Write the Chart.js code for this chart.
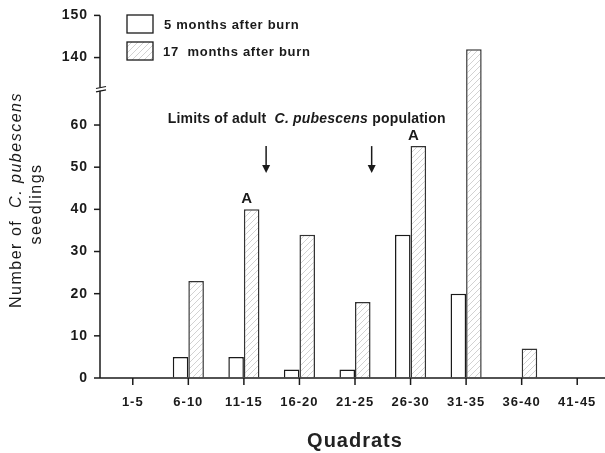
<!DOCTYPE html>
<html>
<head>
<meta charset="utf-8">
<script src="https://cdn.jsdelivr.net/npm/chart.js@4"></script>
<style>
html, body { margin: 0; padding: 0; background: #fff; }
</style>
</head>
<body>
<canvas id="myChart" width="605" height="453"></canvas>
<script>
const quadrats = ['1-5', '6-10', '11-15', '16-20', '21-25', '26-30', '31-35', '36-40', '41-45'];
const after5 = [0, 5, 5, 2, 2, 34, 20, 0, 0];
const after17 = [0, 23, 40, 34, 18, 55, 142, 7, 0];
const seriesNames = ['5 months after burn', '17  months after burn'];
const yTicks = [0, 10, 20, 30, 40, 50, 60, 140, 150];
const markedA = [2, 5];          // 17-month bars marked "A"
const limitArrows = [2.4, 4.3];  // category positions of the population limits

// broken axis: everything above the break is pulled down by `shift`
const breakAt = 68, shift = 64;
const toAxis = v => (v > breakAt ? v - shift : v);
const fromAxis = v => (v > breakAt ? v + shift : v);

const FONT = "'Liberation Sans', Arial, sans-serif";
const INK = '#1a1a1a';

function hatch() {
	const c = document.createElement('canvas');
	c.width = 6; c.height = 6;
	const g = c.getContext('2d');
	g.fillStyle = '#fff';
	g.fillRect(0, 0, 6, 6);
	g.strokeStyle = '#d2d2d2';
	g.lineWidth = 1;
	g.beginPath();
	g.moveTo(0, 6); g.lineTo(6, 0);
	g.moveTo(-1, 1); g.lineTo(1, -1);
	g.moveTo(5, 7); g.lineTo(7, 5);
	g.stroke();
	return g.createPattern(c, 'repeat');
}

const ctx = document.getElementById('myChart').getContext('2d');
const hatchFill = hatch();

function line(c, x1, y1, x2, y2) {
	c.beginPath(); c.moveTo(x1, y1); c.lineTo(x2, y2); c.stroke();
}

// parts: [text, italic]; returns total width when dry
function mixedText(c, parts, x, y, size, weight, dry) {
	let cx = x;
	parts.forEach(([t, it]) => {
		c.font = (it ? 'italic ' : '') + weight + ' ' + size + 'px ' + FONT;
		if (!dry) c.fillText(t, cx, y);
		cx += c.measureText(t).width;
	});
	return cx - x;
}

const extras = {
	id: 'extras',
	beforeDraw(chart) {
		chart.ctx.letterSpacing = '1px';
	},
	afterDatasetsDraw(chart) {
		const c = chart.ctx;
		const { chartArea: area, scales: { x, y } } = chart;
		const ax = area.left - 5;
		const y0 = y.getPixelForValue(0);
		c.save();
		c.strokeStyle = INK;
		c.fillStyle = INK;
		c.lineWidth = 1.5;

		// axes
		line(c, ax, y0, area.right, y0);
		const bLow = y.getPixelForValue(68.1), bHigh = y.getPixelForValue(68.9);
		line(c, ax, y0, ax, bLow);
		line(c, ax, bHigh, ax, y.getPixelForValue(toAxis(150)));
		c.lineWidth = 1.2;
		line(c, ax - 4, bLow + 1, ax + 6, bLow - 1);
		line(c, ax - 4, bHigh + 1, ax + 6, bHigh - 1);
		c.lineWidth = 1.5;
		yTicks.forEach(v => {
			const py = y.getPixelForValue(toAxis(v));
			line(c, ax - 6, py, ax, py);
		});
		quadrats.forEach((q, i) => {
			const px = x.getPixelForValue(i);
			line(c, px, y0, px, y0 + 7);
		});

		// "A" marks
		const meta17 = chart.getDatasetMeta(1);
		c.letterSpacing = '0px';
		c.font = 'bold 15px ' + FONT;
		c.textAlign = 'center';
		c.textBaseline = 'middle';
		markedA.forEach(i => {
			const bar = meta17.data[i];
			c.fillText('A', bar.x - 5, bar.y - 10);
		});

		// population limits
		const step = x.getPixelForValue(1) - x.getPixelForValue(0);
		limitArrows.forEach(p => {
			const px = x.getPixelForValue(0) + p * step;
			const top = y.getPixelForValue(55), bot = y.getPixelForValue(48.6);
			c.lineWidth = 1.5;
			line(c, px, top, px, bot - 6);
			c.beginPath();
			c.moveTo(px - 4, bot - 8);
			c.lineTo(px + 4, bot - 8);
			c.lineTo(px, bot);
			c.closePath();
			c.fill();
		});
		c.textAlign = 'left';
		c.letterSpacing = '0.2px';
		mixedText(c, [['Limits of adult  ', false], ['C. pubescens', true], [' population', false]],
			x.getPixelForValue(0) + 0.63 * step, y.getPixelForValue(61.4), 14, 'bold');

		// legend
		const fills = ['#fff', hatchFill];
		c.letterSpacing = '0.7px';
		seriesNames.forEach((name, i) => {
			const by = 15 + i * 27;
			c.fillStyle = fills[i];
			c.fillRect(127, by, 26, 18);
			c.strokeStyle = INK;
			c.lineWidth = 1.3;
			c.strokeRect(127, by, 26, 18);
			c.fillStyle = INK;
			c.font = 'bold 13px ' + FONT;
			c.textBaseline = 'middle';
			c.fillText(name, 164 - (i ? 1 : 0), by + 10);
		});

		// y title
		c.save();
		c.translate(17, 200);
		c.rotate(-Math.PI / 2);
		c.letterSpacing = '1.5px';
		c.textBaseline = 'middle';
		const parts = [['Number of  ', false], ['C. pubescens', true]];
		const w = mixedText(c, parts, 0, 0, 16, 'normal', true);
		mixedText(c, parts, -w / 2, 0, 16, 'normal');
		c.font = '16px ' + FONT;
		c.textAlign = 'center';
		c.fillText('seedlings', -4, 20);
		c.restore();

		c.restore();
	}
};

new Chart(ctx, {
	type: 'bar',
	data: {
		labels: quadrats,
		datasets: [{
			label: seriesNames[0],
			data: after5.map(toAxis),
			backgroundColor: '#fff',
			borderColor: INK,
			borderWidth: 1.5,
			borderSkipped: 'bottom',
			categoryPercentage: 0.56,
			barPercentage: 1.0
		}, {
			label: seriesNames[1],
			data: after17.map(toAxis),
			backgroundColor: hatchFill,
			borderColor: '#333',
			borderWidth: 1.5,
			borderSkipped: 'bottom',
			categoryPercentage: 0.56,
			barPercentage: 1.0
		}]
	},
	options: {
		responsive: false,
		animation: false,
		layout: { padding: { top: 15, right: 0, left: 0, bottom: 0 } },
		plugins: {
			legend: { display: false },
			tooltip: { enabled: false }
		},
		scales: {
			x: {
				grid: { display: true, drawOnChartArea: false, color: 'rgba(0,0,0,0)', tickLength: 8, offset: false },
				border: { display: false },
				ticks: { color: INK, padding: 9, font: { family: FONT, size: 13, weight: 'bold' }, maxRotation: 0, autoSkip: false },
				title: { display: true, text: 'Quadrats', color: '#222', padding: { top: 0, bottom: 0 }, font: { family: FONT, size: 20, weight: 'bold' } },
				afterFit(s) { s.height = 75; }
			},
			y: {
				min: 0,
				max: toAxis(150),
				grid: { display: true, drawOnChartArea: false, color: 'rgba(0,0,0,0)', tickLength: 10 },
				border: { display: false },
				afterBuildTicks(s) { s.ticks = yTicks.map(v => ({ value: toAxis(v) })); },
				ticks: {
					color: INK, padding: 7, font: { family: FONT, size: 14, weight: 'bold' },
					callback: v => String(fromAxis(v))
				},
				afterFit(s) { s.width = 105; }
			}
		}
	},
	plugins: [extras]
});
</script>
</body>
</html>
